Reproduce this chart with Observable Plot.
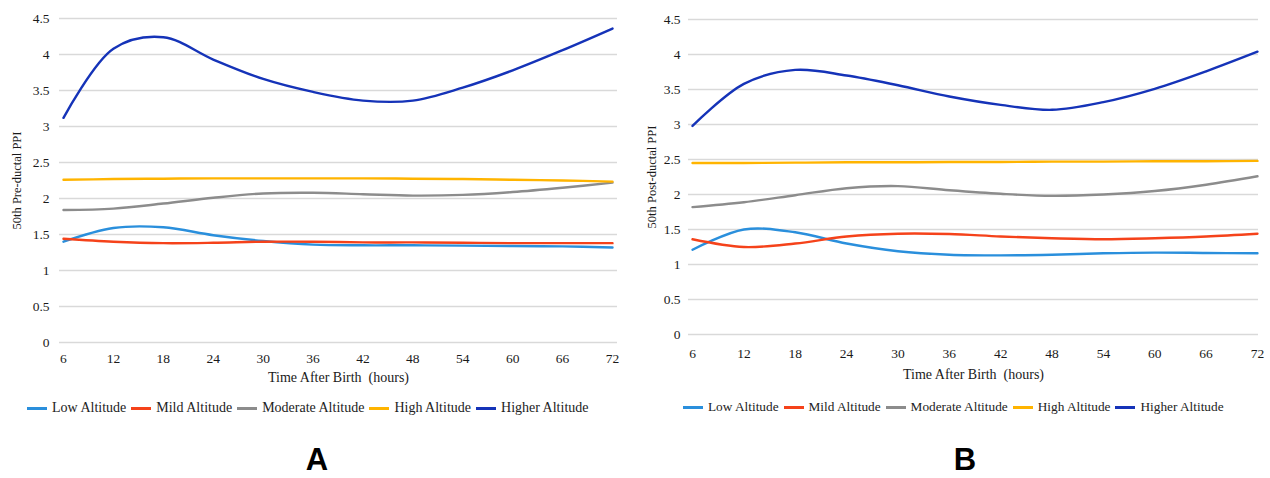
<!DOCTYPE html>
<html>
<head>
<meta charset="utf-8">
<script src="https://cdn.jsdelivr.net/npm/d3@7"></script>
<script src="https://cdn.jsdelivr.net/npm/@observablehq/plot@0.6"></script>
<style>
  html, body { margin: 0; padding: 0; background: #fff; }
  #root { position: relative; width: 1270px; height: 478px; overflow: hidden; background: #fff; font-family: "Liberation Serif", "Times New Roman", serif; }
  .panel { position: absolute; top: 0; }
  .legend { position: absolute; display: flex; align-items: center; white-space: nowrap; color: #222; font-family: "Liberation Serif", serif; }
  .legend .sw { display: inline-block; width: 20px; height: 3px; margin-right: 5px; }
  .legend .item { display: flex; align-items: center; margin-right: 5px; }
  .letter { position: absolute; font-family: "Liberation Sans", Arial, sans-serif; font-weight: bold; font-size: 31px; color: #000; transform: translateX(-50%); }
</style>
</head>
<body>
<div id="root"></div>
<script>
// ---- data ----
const hours = [6, 12, 18, 24, 30, 36, 42, 48, 54, 60, 66, 72];
const seriesNames = ["Low Altitude", "Mild Altitude", "Moderate Altitude", "High Altitude", "Higher Altitude"];
const seriesColors = ["#2a8fdc", "#f5421a", "#8c8c8c", "#ffb400", "#1533b8"];
const xTicks = [6, 12, 18, 24, 30, 36, 42, 48, 54, 60, 66, 72];
const yTicks = [0, 0.5, 1, 1.5, 2, 2.5, 3, 3.5, 4, 4.5];

// Panel A: 50th Pre-ductal PPI
const preLow      = [1.40, 1.59, 1.60, 1.49, 1.41, 1.36, 1.35, 1.35, 1.345, 1.34, 1.335, 1.32];
const preMild     = [1.44, 1.40, 1.38, 1.385, 1.40, 1.40, 1.39, 1.39, 1.385, 1.38, 1.38, 1.38];
const preModerate = [1.84, 1.86, 1.93, 2.01, 2.07, 2.08, 2.06, 2.04, 2.05, 2.09, 2.15, 2.22];
const preHigh     = [2.26, 2.27, 2.275, 2.28, 2.28, 2.28, 2.28, 2.275, 2.27, 2.26, 2.25, 2.235];
const preHigher   = [3.12, 4.08, 4.24, 3.93, 3.66, 3.48, 3.36, 3.36, 3.54, 3.78, 4.06, 4.36];

// Panel B: 50th Post-ductal PPI
const postLow      = [1.21, 1.50, 1.46, 1.30, 1.19, 1.14, 1.13, 1.14, 1.16, 1.17, 1.165, 1.16];
const postMild     = [1.36, 1.25, 1.30, 1.40, 1.44, 1.435, 1.40, 1.375, 1.36, 1.375, 1.40, 1.44];
const postModerate = [1.82, 1.89, 1.99, 2.09, 2.12, 2.06, 2.01, 1.98, 2.00, 2.05, 2.14, 2.26];
const postHigh     = [2.45, 2.45, 2.455, 2.46, 2.46, 2.465, 2.465, 2.47, 2.47, 2.475, 2.475, 2.48];
const postHigher   = [2.98, 3.58, 3.78, 3.70, 3.56, 3.40, 3.28, 3.21, 3.32, 3.51, 3.76, 4.04];

function toRows(lists) {
  const rows = [];
  lists.forEach((vals, s) => vals.forEach((v, i) => rows.push({series: seriesNames[s], hour: hours[i], value: v})));
  return rows;
}

const root = document.getElementById("root");

function makePanel(cfg) {
  const rows = toRows(cfg.lists);
  const chart = Plot.plot({
    width: cfg.width,
    height: cfg.height,
    marginLeft: cfg.ml, marginRight: cfg.mr, marginTop: cfg.mt, marginBottom: cfg.mb,
    style: {fontFamily: "Liberation Serif, serif", fontSize: "13.5px", color: "#1a1a1a", background: "transparent"},
    x: {domain: cfg.xDomain},
    y: {domain: [0, 4.5]},
    color: {domain: seriesNames, range: seriesColors},
    marks: [
      Plot.ruleY(yTicks, {stroke: "#d9d9d9", strokeWidth: 1.3}),
      Plot.axisY(yTicks, {tickSize: 0, tickPadding: cfg.yPad, label: null, fontSize: 13.5, tickFormat: (d) => String(d)}),
      Plot.axisX(xTicks, {tickSize: 0, tickPadding: cfg.xPad, label: null, fontSize: 13.5, tickFormat: (d) => String(d)}),
      Plot.text([cfg.xTitle], {frameAnchor: "bottom", dy: cfg.xTitleDy, lineAnchor: "middle", textAnchor: "middle", fontSize: 14, fill: "#1a1a1a"}),
      Plot.text([cfg.yTitle], {frameAnchor: "left", rotate: -90, dx: cfg.yTitleDx, dy: 0, lineAnchor: "middle", textAnchor: "middle", fontSize: 12.5, fill: "#1a1a1a"}),
      Plot.line(rows, {x: "hour", y: "value", z: "series", stroke: "series", strokeWidth: 2.4, curve: "catmull-rom"})
    ]
  });
  const div = document.createElement("div");
  div.className = "panel";
  div.style.left = cfg.left + "px";
  div.appendChild(chart);
  root.appendChild(div);

  const lg = document.createElement("div");
  lg.className = "legend";
  lg.style.left = cfg.legendLeft + "px";
  lg.style.top = cfg.legendTop + "px";
  lg.style.fontSize = cfg.legendFont + "px";
  seriesNames.forEach((n, i) => {
    const it = document.createElement("span");
    it.className = "item";
    const sw = document.createElement("span");
    sw.className = "sw";
    sw.style.background = seriesColors[i];
    it.appendChild(sw);
    it.appendChild(document.createTextNode(n));
    lg.appendChild(it);
  });
  root.appendChild(lg);

  const letter = document.createElement("div");
  letter.className = "letter";
  letter.textContent = cfg.letter;
  letter.style.left = cfg.letterX + "px";
  letter.style.top = "442px";
  root.appendChild(letter);
}

makePanel({
  lists: [preLow, preMild, preModerate, preHigh, preHigher],
  left: 0, width: 640, height: 390, ml: 59, mr: 23, mt: 18, mb: 48,
  xDomain: [5.52, 72.6], yPad: 10, xPad: 11,
  xTitle: "Time After Birth\u00a0 (hours)", xTitleDy: 35,
  yTitle: "50th Pre-ductal PPI", yTitleDx: -43,
  legendLeft: 27, legendTop: 400, legendFont: 14,
  letter: "A", letterX: 317
});

makePanel({
  lists: [postLow, postMild, postModerate, postHigh, postHigher],
  left: 640, width: 630, height: 390, ml: 48, mr: 12, mt: 19, mb: 56,
  xDomain: [5.53, 72.12], yPad: 8, xPad: 14,
  xTitle: "Time After Birth\u00a0 (hours)", xTitleDy: 40,
  yTitle: "50th Post-ductal PPI", yTitleDx: -37,
  legendLeft: 683, legendTop: 399, legendFont: 13.3,
  letter: "B", letterX: 965
});
</script>
</body>
</html>
